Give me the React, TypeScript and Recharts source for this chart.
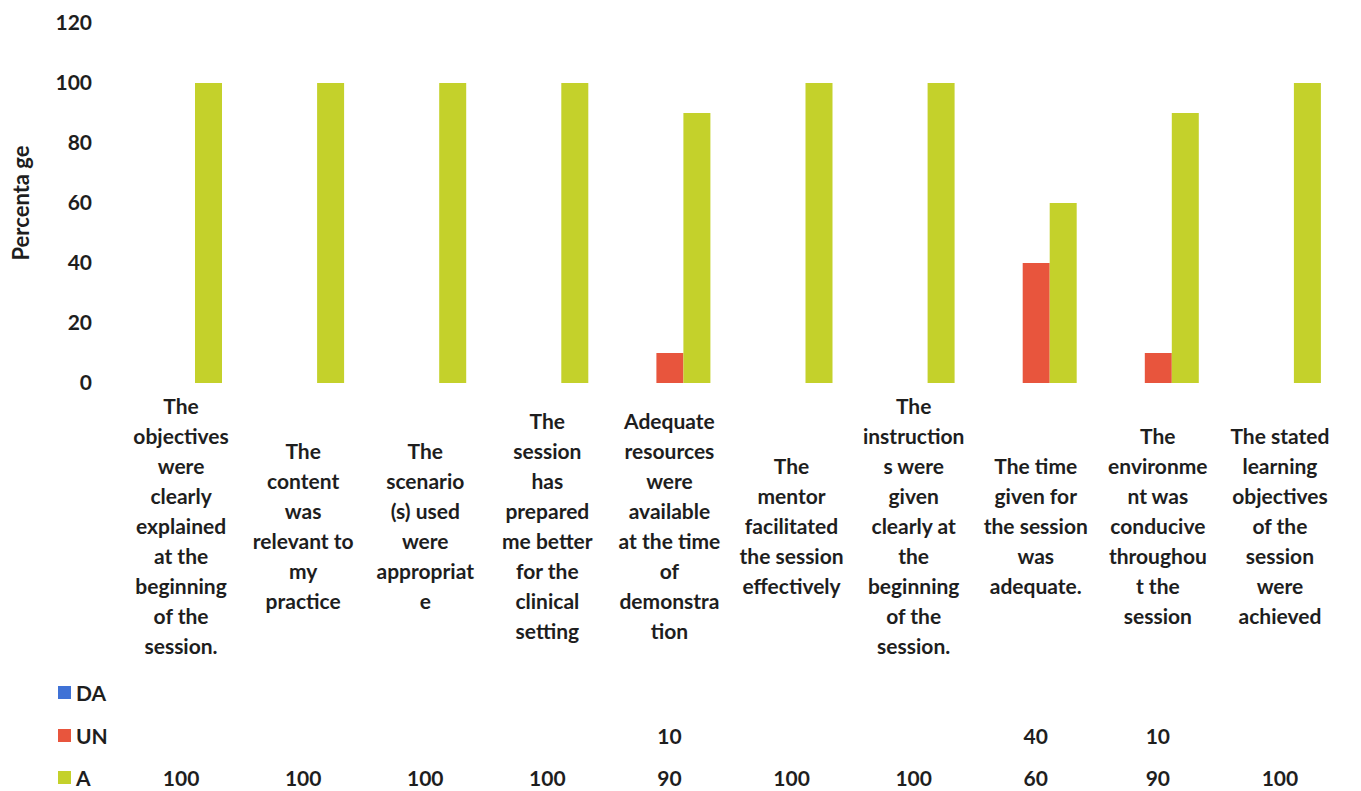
import { BarChart, Bar, XAxis, YAxis, Label } from "recharts";

const categories = [
  "The\nobjectives\nwere\nclearly\nexplained\nat the\nbeginning\nof the\nsession.",
  "The\ncontent\nwas\nrelevant to\nmy\npractice",
  "The\nscenario\n(s) used\nwere\nappropriat\ne",
  "The\nsession\nhas\nprepared\nme better\nfor the\nclinical\nsetting",
  "Adequate\nresources\nwere\navailable\nat the time\nof\ndemonstra\ntion",
  "The\nmentor\nfacilitated\nthe session\neffectively",
  "The\ninstruction\ns were\ngiven\nclearly at\nthe\nbeginning\nof the\nsession.",
  "The time\ngiven for\nthe session\nwas\nadequate.",
  "The\nenvironme\nnt was\nconducive\nthroughou\nt the\nsession",
  "The stated\nlearning\nobjectives\nof the\nsession\nwere\nachieved",
];
const daValues = [0, 0, 0, 0, 0, 0, 0, 0, 0, 0];
const unValues = [0, 0, 0, 0, 10, 0, 0, 40, 10, 0];
const aValues = [100, 100, 100, 100, 90, 100, 100, 60, 90, 100];
const yTicks = [0, 20, 40, 60, 80, 100, 120];

const seriesNames = ["DA", "UN", "A"];
const seriesValues = [daValues, unValues, aValues];
const seriesColors = ["#3f72d6", "#e8553d", "#c4d12b"];

const FONT = "Lato, 'Open Sans', sans-serif";
const TEXT = "#1e1e1e";
const FS = 21;

const rows = categories.map((c, i) => ({
  name: c,
  DA: daValues[i],
  UN: unValues[i],
  A: aValues[i],
}));

// label block centre and table row offsets, measured from the axis line
const LABEL_MID = 142;
const LINE_H = 30;
const ROW_Y = [309, 352, 394];

function CategoryTick(props: any) {
  const { x, y, payload } = props;
  const i = payload.index;
  const lines = categories[i].split("\n");
  const top = y + LABEL_MID - ((lines.length - 1) * LINE_H) / 2;
  return (
    <g>
      {lines.map((ln, k) => (
        <text
          key={k}
          x={x}
          y={top + k * LINE_H}
          textAnchor="middle"
          dominantBaseline="central"
          fontFamily={FONT}
          fontSize={FS}
          fontWeight={700}
          fill={TEXT}
        >
          {ln}
        </text>
      ))}
      {seriesValues.map((vals, r) =>
        vals[i] ? (
          <text
            key={"v" + r}
            x={x}
            y={y + ROW_Y[r]}
            textAnchor="middle"
            dominantBaseline="central"
            fontFamily={FONT}
            fontSize={FS}
            fontWeight={700}
            fill={TEXT}
          >
            {vals[i]}
          </text>
        ) : null
      )}
    </g>
  );
}

export default function App() {
  return (
    <div style={{ position: "absolute", left: 0, top: 0, width: 1361, height: 791, background: "#fff" }}>
      <BarChart
        width={1361}
        height={791}
        data={rows}
        margin={{ top: 23, right: 20, left: 0, bottom: 0 }}
        barSize={27}
        barGap={0}
      >
        <YAxis
          width={120}
          domain={[0, 120]}
          ticks={yTicks}
          axisLine={false}
          tickLine={false}
          tickSize={0}
          tickMargin={28}
          tick={{ fill: TEXT, fontSize: FS, fontWeight: 700, fontFamily: FONT }}
        >
          <Label
            content={(p: any) => {
              const vb = p.viewBox;
              const cx = 20;
              const cy = vb.y + vb.height / 2;
              return (
                <text
                  x={cx}
                  y={cy}
                  transform={`rotate(-90 ${cx} ${cy})`}
                  textAnchor="middle"
                  dominantBaseline="central"
                  fontFamily={FONT}
                  fontSize={22}
                  fontWeight={700}
                  fill={TEXT}
                >
                  Percenta ge
                </text>
              );
            }}
          />
        </YAxis>
        <XAxis
          dataKey="name"
          height={408}
          axisLine={false}
          tickLine={false}
          tickSize={0}
          tickMargin={0}
          interval={0}
          tick={<CategoryTick />}
        />
        {seriesNames.map((s, r) => (
          <Bar key={s} dataKey={s} fill={seriesColors[r]} isAnimationActive={false} />
        ))}
      </BarChart>
      {seriesNames.map((s, r) => (
        <div
          key={s}
          style={{
            position: "absolute",
            left: 58,
            top: 383 + ROW_Y[r] - 13,
            height: 26,
            display: "flex",
            alignItems: "center",
            fontFamily: FONT,
            fontSize: FS,
            fontWeight: 700,
            color: TEXT,
          }}
        >
          <span style={{ width: 13, height: 13, background: seriesColors[r], marginRight: 5 }} />
          {s}
        </div>
      ))}
    </div>
  );
}
